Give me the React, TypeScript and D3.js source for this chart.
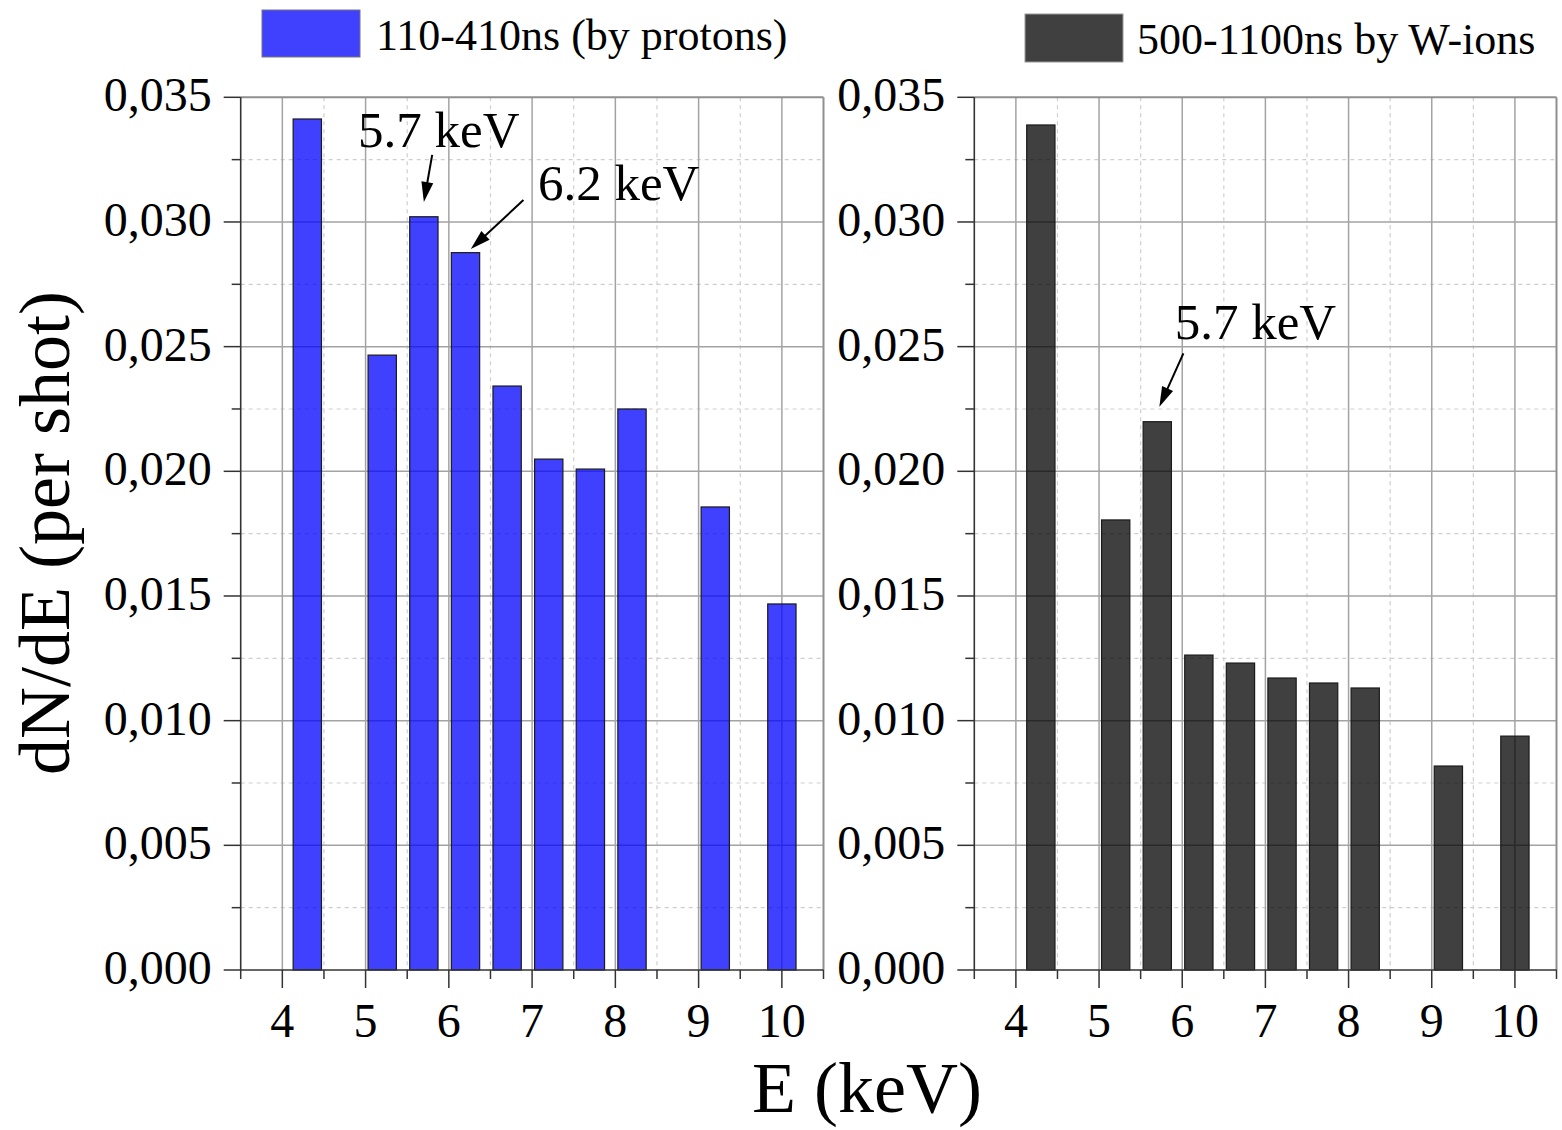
import React from "react";
import * as d3 from "d3";

// ---- data ----
const energies = [4.3, 5.2, 5.7, 6.2, 6.7, 7.2, 7.7, 8.2, 9.2, 10.0];
const protonValues = [0.03413, 0.02466, 0.03021, 0.02877, 0.02342, 0.02049, 0.02009, 0.0225, 0.01857, 0.01468];
const wIonValues = [0.03389, 0.01805, 0.02199, 0.01263, 0.01231, 0.01171, 0.01151, 0.01131, 0.00818, 0.00938];
const xTickValues = [4, 5, 6, 7, 8, 9, 10];
const xMinorValues = [4.5, 5.5, 6.5, 7.5, 8.5, 9.5];
const yTickValues = [0, 0.005, 0.01, 0.015, 0.02, 0.025, 0.03, 0.035];
const yTickLabels = ["0,000", "0,005", "0,010", "0,015", "0,020", "0,025", "0,030", "0,035"];
const yMinorValues = [0.0025, 0.0075, 0.0125, 0.0175, 0.0225, 0.0275, 0.0325];
const legendLabels = ["110-410ns (by protons)", "500-1100ns by W-ions"];
const seriesColors = ["#0000ff", "#000000"];

type Ann = { text: string; tx: number; ty: number; x1: number; y1: number; x2: number; y2: number };
const leftAnnotations: Ann[] = [
  { text: "5.7 keV", tx: 4.91, ty: 0.03302, x1: 5.80, y1: 0.03269, x2: 5.70, y2: 0.0308 },
  { text: "6.2 keV", tx: 7.07, ty: 0.03088, x1: 6.896, y1: 0.03088, x2: 6.264, y2: 0.02892 },
];
const rightAnnotations: Ann[] = [
  { text: "5.7 keV", tx: 5.91, ty: 0.02529, x1: 6.014, y1: 0.02473, x2: 5.725, y2: 0.02259 },
];

const FONT = "'Liberation Serif', 'Times New Roman', Times, serif";
const W = 1562;
const H = 1130;
const Y_TOP = 97.3;
const Y_BOTTOM = 970;
const BAR_HALF = 0.17;

function Arrow({ x1, y1, x2, y2 }: { x1: number; y1: number; x2: number; y2: number }) {
  const dx = x2 - x1;
  const dy = y2 - y1;
  const len = Math.hypot(dx, dy);
  const ux = dx / len;
  const uy = dy / len;
  const hl = 20;
  const hw = 6;
  const bx = x2 - ux * hl;
  const by = y2 - uy * hl;
  const px = -uy;
  const py = ux;
  const pts = `${x2},${y2} ${bx + px * hw},${by + py * hw} ${bx - px * hw},${by - py * hw}`;
  return (
    <g>
      <line x1={x1} y1={y1} x2={bx + ux * 2} y2={by + uy * 2} stroke="#000" strokeWidth={2} />
      <polygon points={pts} fill="#000" />
    </g>
  );
}

function Panel({
  x0,
  x1,
  values,
  color,
  annotations,
}: {
  x0: number;
  x1: number;
  values: number[];
  color: string;
  annotations: Ann[];
}) {
  const x = d3.scaleLinear().domain([3.5, 10.5]).range([x0, x1]);
  const y = d3.scaleLinear().domain([0, 0.035]).range([Y_BOTTOM, Y_TOP]);
  return (
    <g>
      {/* minor grid */}
      {xMinorValues.map((v) => (
        <line key={"xm" + v} x1={x(v)} x2={x(v)} y1={Y_TOP} y2={Y_BOTTOM} stroke="#cfcfcf" strokeWidth={1.2} strokeDasharray="4 4" />
      ))}
      {yMinorValues.map((v) => (
        <line key={"ym" + v} x1={x0} x2={x1} y1={y(v)} y2={y(v)} stroke="#cfcfcf" strokeWidth={1.2} strokeDasharray="4 4" />
      ))}
      {/* major grid */}
      {xTickValues.map((v) => (
        <line key={"xg" + v} x1={x(v)} x2={x(v)} y1={Y_TOP} y2={Y_BOTTOM} stroke="#a3a3a3" strokeWidth={1.5} />
      ))}
      {yTickValues.slice(1, -1).map((v) => (
        <line key={"yg" + v} x1={x0} x2={x1} y1={y(v)} y2={y(v)} stroke="#a3a3a3" strokeWidth={1.5} />
      ))}
      {/* bars */}
      {energies.map((e, i) => (
        <rect
          key={"b" + i}
          x={x(e - BAR_HALF)}
          y={y(values[i])}
          width={x(e + BAR_HALF) - x(e - BAR_HALF)}
          height={y(0) - y(values[i])}
          fill={color}
          fillOpacity={0.75}
          stroke="#1a1a1a"
          strokeWidth={1.2}
        />
      ))}
      {/* frame top/right */}
      <line x1={x0} x2={x1} y1={Y_TOP} y2={Y_TOP} stroke="#8f8f8f" strokeWidth={2} />
      <line x1={x1} x2={x1} y1={Y_TOP} y2={Y_BOTTOM} stroke="#8f8f8f" strokeWidth={2} />
      {/* axes */}
      <line x1={x0} x2={x0} y1={Y_TOP} y2={Y_BOTTOM} stroke="#333" strokeWidth={1.6} />
      <line x1={x0} x2={x1} y1={Y_BOTTOM} y2={Y_BOTTOM} stroke="#333" strokeWidth={1.6} />
      {/* y ticks */}
      {yTickValues.map((v, i) => (
        <g key={"yt" + v}>
          <line x1={x0 - 17} x2={x0} y1={y(v)} y2={y(v)} stroke="#333" strokeWidth={1.5} />
          <text x={x0 - 29} y={y(v) + 14} textAnchor="end" fontSize={48} fontFamily={FONT} fill="#000">
            {yTickLabels[i]}
          </text>
        </g>
      ))}
      {yMinorValues.map((v) => (
        <line key={"ymt" + v} x1={x0 - 9} x2={x0} y1={y(v)} y2={y(v)} stroke="#333" strokeWidth={1.5} />
      ))}
      {/* x ticks */}
      {xTickValues.map((v) => (
        <g key={"xt" + v}>
          <line x1={x(v)} x2={x(v)} y1={Y_BOTTOM} y2={Y_BOTTOM + 18} stroke="#333" strokeWidth={1.5} />
          <text x={x(v)} y={Y_BOTTOM + 67} textAnchor="middle" fontSize={48} fontFamily={FONT} fill="#000">
            {v}
          </text>
        </g>
      ))}
      {[3.5, ...xMinorValues, 10.5].map((v) => (
        <line key={"xmt" + v} x1={x(v)} x2={x(v)} y1={Y_BOTTOM} y2={Y_BOTTOM + 9} stroke="#333" strokeWidth={1.5} />
      ))}
      {/* annotations */}
      {annotations.map((a, i) => (
        <g key={"a" + i}>
          <text x={x(a.tx)} y={y(a.ty)} fontSize={51} fontFamily={FONT} fill="#000">
            {a.text}
          </text>
          <Arrow x1={x(a.x1)} y1={y(a.y1)} x2={x(a.x2)} y2={y(a.y2)} />
        </g>
      ))}
    </g>
  );
}

export default function App() {
  return (
    <svg
      width={W}
      height={H}
      viewBox={`0 0 ${W} ${H}`}
      style={{ position: "fixed", left: 0, top: 0, background: "#fff", display: "block" }}
    >
      <rect x={0} y={0} width={W} height={H} fill="#fff" />
      <Panel x0={240.7} x1={823.5} values={protonValues} color={seriesColors[0]} annotations={leftAnnotations} />
      <Panel x0={974.3} x1={1556.5} values={wIonValues} color={seriesColors[1]} annotations={rightAnnotations} />

      {/* legends */}
      <rect x={262} y={10} width={98} height={47} fill={seriesColors[0]} fillOpacity={0.75} stroke="#777" strokeWidth={1} />
      <text x={376} y={50} fontSize={44} fontFamily={FONT} fill="#000">
        {legendLabels[0]}
      </text>
      <rect x={1025} y={14} width={98} height={48} fill={seriesColors[1]} fillOpacity={0.75} stroke="#999" strokeWidth={1} />
      <text x={1137} y={54} fontSize={44} fontFamily={FONT} fill="#000">
        {legendLabels[1]}
      </text>

      {/* axis titles */}
      <text
        transform="translate(69,533) rotate(-90)"
        textAnchor="middle"
        fontSize={72}
        fontFamily={FONT}
        fill="#000"
      >
        dN/dE (per shot)
      </text>
      <text x={867} y={1112} textAnchor="middle" fontSize={72} fontFamily={FONT} fill="#000">
        E (keV)
      </text>
    </svg>
  );
}
